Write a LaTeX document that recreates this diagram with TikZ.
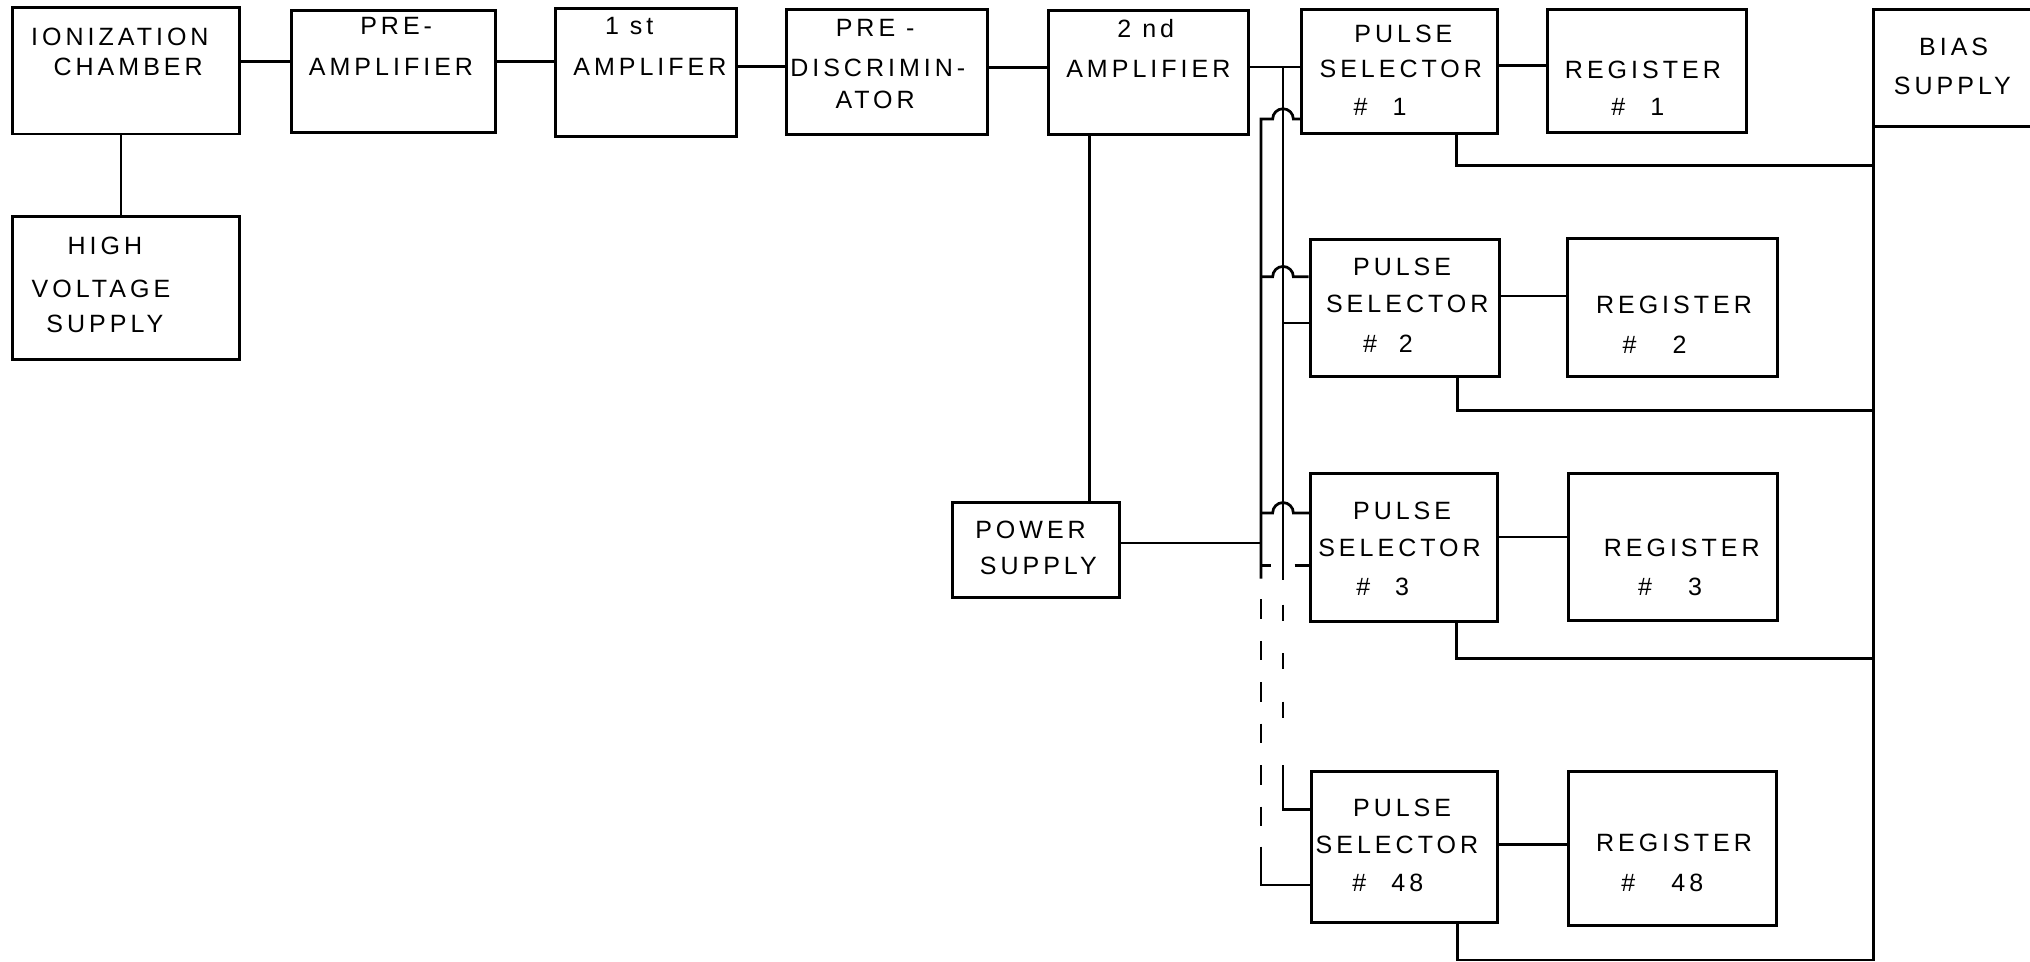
\documentclass[tikz,border=0pt]{standalone}
\usepackage{fontspec}
\usepackage{tikz}
\usetikzlibrary{fit,calc}
\newfontfamily\lettering{Liberation Sans}[LetterSpace=16]

\tikzset{
  blk/.style={draw, line width=1.3pt, inner sep=0pt},
  lbl/.style={font=\lettering\fontsize{11pt}{13pt}\selectfont, inner sep=0pt, text height=7.9pt, text depth=0pt},
  wire/.style={line width=1.2pt},
}

\begin{document}
\begin{tikzpicture}[x=0.02cm,y=-0.02cm]
    \useasboundingbox (0,0) rectangle (1568,743);

    % main chain
    \node[blk, fit={(10,6) (185,103.5)}] (cham) {};
    \node[blk, fit={(225,8) (383,102.5)}] (pre) {};
    \node[blk, fit={(429,6.5) (569,105.5)}] (amp1) {};
    \node[blk, fit={(607.5,7.6) (763,104)}] (disc) {};
    \node[blk, fit={(810,8) (964,104)}] (amp2) {};
    \node[blk, fit={(10,167) (185,278)}] (hv) {};
    \node[blk, fit={(736,388) (865,461.5)}] (psu) {};
    \node[blk, fit={(1447,7.7) (1600,98)}] (bias) {};

    % selectors and registers
    \node[blk, fit={(1005.5,7.7) (1157,103)}] (ps1) {};
    \node[blk, fit={(1195,7.7) (1349,102)}] (reg1) {};
    \node[blk, fit={(1012,185) (1158,290.5)}] (ps2) {};
    \node[blk, fit={(1211,184.5) (1373,291)}] (reg2) {};
    \node[blk, fit={(1012.5,366) (1157,480)}] (ps3) {};
    \node[blk, fit={(1211.4,365.5) (1373,479)}] (reg3) {};
    \node[blk, fit={(1012.7,596) (1156.5,712.5)}] (ps48) {};
    \node[blk, fit={(1211.4,596) (1372,715)}] (reg48) {};

    % box texts
    \node[lbl] (cham-a) at (92.6,28.3) {IONIZATION};
    \node[lbl] (cham-b) at (99,51.5) {CHAMBER};
    \node[lbl] (pre-a) at (306,19.5) {PRE-};
    \node[lbl] (pre-b) at (302,51.5) {AMPLIFIER};
    \node[lbl] (amp1-a) at (486,19.5) {1 st};
    \node[lbl] (amp1-b) at (502,51.5) {AMPLIFER};
    \node[lbl] (disc-a) at (676,21) {PRE -};
    \node[lbl] (disc-b) at (678,52) {DISCRIMIN-};
    \node[lbl] (disc-c) at (676,77) {ATOR};
    \node[lbl] (amp2-a) at (885,22) {2 nd};
    \node[lbl] (amp2-b) at (887,53) {AMPLIFIER};
    \node[lbl] (hv-a) at (81,190) {HIGH};
    \node[lbl] (hv-b) at (78,223) {VOLTAGE};
    \node[lbl] (hv-c) at (81,250) {SUPPLY};
    \node[lbl] (psu-a) at (796,409) {POWER};
    \node[lbl] (psu-b) at (802,437) {SUPPLY};
    \node[lbl] (bias-a) at (1509,36) {BIAS};
    \node[lbl] (bias-b) at (1508,65.7) {SUPPLY};

    \node[lbl] (ps1-a) at (1084,25.7) {PULSE};
    \node[lbl] (ps1-b) at (1082,52.8) {SELECTOR};
    \node[lbl] (ps1-c) at (1066,82.4) {\#\quad 1};
    \node[lbl] (reg1-a) at (1269,53.5) {REGISTER};
    \node[lbl] (reg1-b) at (1265,82) {\#\quad 1};
    \node[lbl] (ps2-a) at (1083,206) {PULSE};
    \node[lbl] (ps2-b) at (1087,234.3) {SELECTOR};
    \node[lbl] (ps2-c) at (1072,265) {\#~~2};
    \node[lbl] (reg2-a) at (1293,235) {REGISTER};
    \node[lbl] (reg2-b) at (1278,266) {\#\quad\ 2};
    \node[lbl] (ps3-a) at (1083,394) {PULSE};
    \node[lbl] (ps3-b) at (1081,422.7) {SELECTOR};
    \node[lbl] (ps3-c) at (1068,453.4) {\#\quad 3};
    \node[lbl] (reg3-a) at (1299,423) {REGISTER};
    \node[lbl] (reg3-b) at (1290,453) {\#\quad\ 3};
    \node[lbl] (ps48-a) at (1083,623.5) {PULSE};
    \node[lbl] (ps48-b) at (1079,652.3) {SELECTOR};
    \node[lbl] (ps48-c) at (1072,681.7) {\#\quad 48};
    \node[lbl] (reg48-a) at (1293,651) {REGISTER};
    \node[lbl] (reg48-b) at (1284,682) {\#\quad\ 48};

    % bus positions
    \coordinate (pw) at (974,0);
    \coordinate (sg) at (991,0);
    \coordinate (bb) at (1447,0);

    % chain wires
    \draw[wire] (cham.east |- 0,47.5) -- (pre.west |- 0,47.5);
    \draw[wire] (pre.east |- 0,47.3) -- (amp1.west |- 0,47.3);
    \draw[wire] (amp1.east |- 0,51.5) -- (disc.west |- 0,51.5);
    \draw[wire] (disc.east |- 0,52) -- (amp2.west |- 0,52);
    \draw[wire] (amp2.east |- 0,51.7) -- (ps1.west |- 0,51.7);
    \draw[wire] (cham.south -| 93.4,0) -- (hv.north -| 93.4,0);
    \draw[wire] (amp2.south -| 841.3,0) -- (psu.north -| 841.3,0);
    \draw[wire] (psu.east |- 0,419.5) -- (pw |- 0,419.5);

    % signal bus
    \draw[wire] (sg |- 0,51.7) -- (sg |- 0,448);
    \draw[wire, dash pattern=on 0.25cm off 0.5cm] (sg |- 0,467) -- (sg |- 0,560);
    \draw[wire] (sg |- 0,591) -- (sg |- 0,625) -- (ps48.west |- 0,625);
    \draw[wire] (sg |- 0,249.5) -- (ps2.west |- 0,249.5);
    \draw[wire] (1000,437) -- (ps3.west |- 0,437);

    % power bus with hops
    \draw[wire] (pw |- 0,447) -- (pw |- 0,92) -- (983,92)
        arc[start angle=180, end angle=360, radius=8] -- (ps1.west |- 0,92);
    \draw[wire] (pw |- 0,213.8) -- (983,213.8)
        arc[start angle=180, end angle=360, radius=8] -- (ps2.west |- 0,213.8);
    \draw[wire] (pw |- 0,396.2) -- (983,396.2)
        arc[start angle=180, end angle=360, radius=8] -- (ps3.west |- 0,396.2);
    \draw[wire] (pw |- 0,437) -- (982,437);
    \draw[wire, dash pattern=on 0.3cm off 0.34cm] (pw |- 0,463) -- (pw |- 0,640);
    \draw[wire] (pw |- 0,654) -- (pw |- 0,683.5) -- (ps48.west |- 0,683.5);

    % registers
    \draw[wire] (ps1.east |- 0,50.7) -- (reg1.west |- 0,50.7);
    \draw[wire] (ps2.east |- 0,228.6) -- (reg2.west |- 0,228.6);
    \draw[wire] (ps3.east |- 0,414.7) -- (reg3.west |- 0,414.7);
    \draw[wire] (ps48.east |- 0,652.3) -- (reg48.west |- 0,652.3);

    % bias lines
    \draw[wire] (bias.south -| bb) -- (bb |- 0,741.5) -| (ps48.south -| 1126,0);
    \draw[wire] (ps1.south -| 1125,0) |- (bb |- 0,128);
    \draw[wire] (ps2.south -| 1126,0) |- (bb |- 0,317);
    \draw[wire] (ps3.south -| 1125,0) |- (bb |- 0,508.7);
\end{tikzpicture}
\end{document}
